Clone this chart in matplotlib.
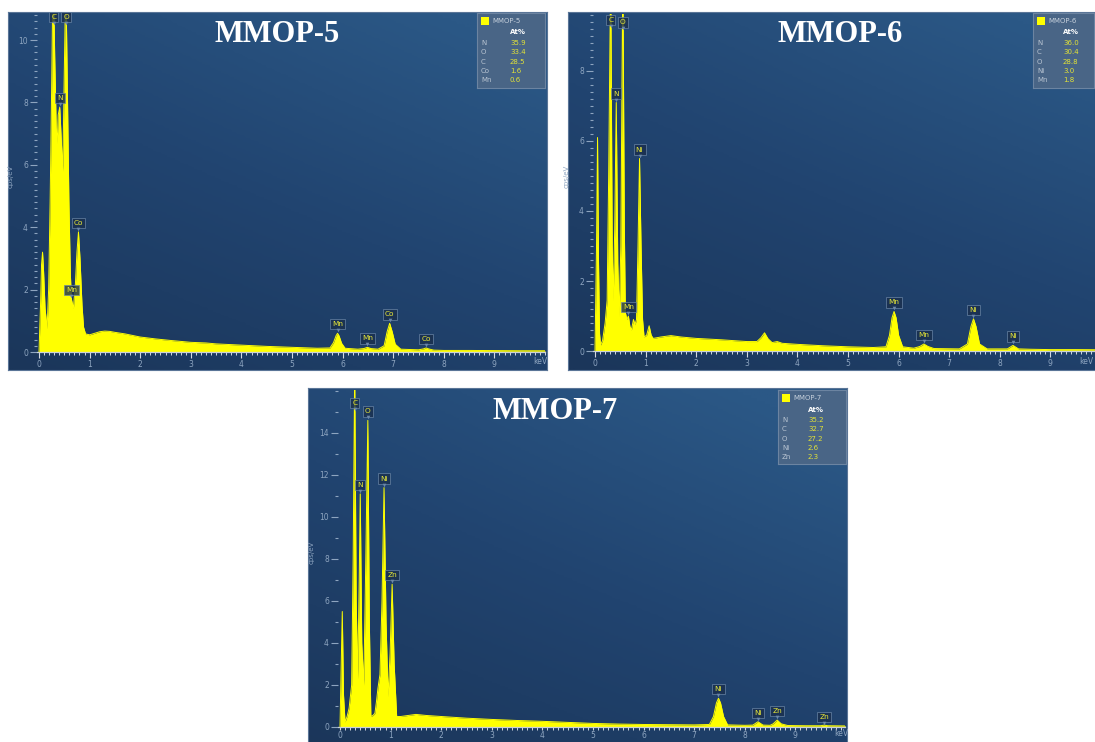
import matplotlib
matplotlib.use('Agg')
import matplotlib.pyplot as plt
import numpy as np
from matplotlib.colors import LinearSegmentedColormap
from matplotlib.patches import Rectangle
from matplotlib.ticker import MultipleLocator, FixedLocator
from matplotlib.transforms import offset_copy

W, H, DPI = 1095, 742, 100

# ---------------- data ----------------
# MMOP-5 spectrum
e5 = [0.00, 0.03, 0.05, 0.07, 0.09, 0.12, 0.16, 0.19, 0.22, 0.25, 0.28, 0.31, 0.34, 0.36,
      0.38, 0.41, 0.44, 0.47, 0.50, 0.53, 0.56, 0.59, 0.62, 0.64, 0.68, 0.72, 0.75, 0.78,
      0.81, 0.85, 0.88, 0.92, 1.0, 1.1, 1.2, 1.3, 1.4, 1.5, 1.7, 2.0, 2.3, 2.6, 3.0, 3.3,
      3.5, 4.0, 4.5, 5.0, 5.5, 5.75, 5.82, 5.87, 5.90, 5.93, 5.98, 6.05, 6.3, 6.42, 6.49,
      6.56, 6.7, 6.82, 6.88, 6.93, 6.98, 7.04, 7.15, 7.5, 7.6, 7.65, 7.7, 7.8, 8.0, 8.5,
      9.0, 9.5, 10.0]
c5 = [0.0, 1.5, 2.8, 3.2, 2.6, 1.4, 0.75, 2.0, 4.8, 8.5, 12.5, 9.5, 7.2, 6.7,
      7.6, 7.85, 6.8, 5.8, 9.0, 12.0, 8.5, 4.9, 2.5, 1.7, 1.4, 2.2, 3.2, 3.85,
      3.0, 1.5, 0.8, 0.58, 0.55, 0.6, 0.65, 0.67, 0.66, 0.63, 0.58, 0.48, 0.42, 0.37, 0.31, 0.29,
      0.26, 0.22, 0.18, 0.15, 0.12, 0.13, 0.30, 0.52, 0.60, 0.52, 0.28, 0.12, 0.09, 0.11, 0.15,
      0.11, 0.09, 0.20, 0.65, 0.92, 0.65, 0.25, 0.09, 0.07, 0.10, 0.13, 0.10, 0.06, 0.05, 0.05,
      0.045, 0.04, 0.04]

# MMOP-6 spectrum
e6 = [0.0, 0.03, 0.05, 0.07, 0.09, 0.11, 0.15, 0.20, 0.24, 0.27, 0.31, 0.34, 0.36, 0.39,
      0.42, 0.45, 0.48, 0.51, 0.55, 0.58, 0.60, 0.63, 0.66, 0.69, 0.72, 0.76, 0.79, 0.82,
      0.85, 0.88, 0.91, 0.94, 0.97, 1.02, 1.07, 1.11, 1.15, 1.3, 1.5, 1.7, 2.0, 2.5, 3.0,
      3.2, 3.28, 3.35, 3.42, 3.5, 3.6, 3.7, 4.0, 4.5, 5.0, 5.5, 5.75, 5.82, 5.87, 5.91,
      5.95, 6.0, 6.08, 6.3, 6.42, 6.5, 6.58, 6.7, 7.2, 7.36, 7.43, 7.48, 7.53, 7.6, 7.75,
      8.15, 8.26, 8.37, 8.6, 9.0, 9.5, 10.0]
c6 = [0.0, 3.0, 6.1, 2.5, 0.5, 0.17, 0.3, 0.8, 1.45, 5.0, 11.0, 3.0, 1.45, 3.5,
      7.1, 2.5, 1.0, 3.0, 11.0, 3.5, 1.1, 0.9, 1.0, 0.7, 0.6, 0.9, 0.75, 0.9,
      3.0, 5.5, 3.0, 0.9, 0.4, 0.45, 0.72, 0.45, 0.36, 0.40, 0.44, 0.40, 0.36, 0.32, 0.27,
      0.27, 0.38, 0.52, 0.35, 0.24, 0.27, 0.22, 0.19, 0.15, 0.12, 0.10, 0.12, 0.45, 0.95, 1.13,
      0.95, 0.45, 0.12, 0.08, 0.13, 0.20, 0.13, 0.07, 0.06, 0.20, 0.70, 0.92, 0.70, 0.20, 0.06,
      0.06, 0.16, 0.06, 0.05, 0.04, 0.04, 0.035]

# MMOP-7 spectrum
e7 = [0.0, 0.02, 0.045, 0.07, 0.10, 0.14, 0.18, 0.23, 0.26, 0.29, 0.32, 0.35, 0.38, 0.40,
      0.43, 0.47, 0.51, 0.55, 0.58, 0.61, 0.65, 0.69, 0.72, 0.75, 0.79, 0.83, 0.87, 0.91,
      0.95, 0.99, 1.03, 1.07, 1.12, 1.2, 1.35, 1.5, 1.7, 2.0, 2.5, 3.0, 3.5, 4.0, 4.5, 5.0,
      5.5, 6.0, 6.5, 7.0, 7.3, 7.38, 7.44, 7.48, 7.52, 7.58, 7.66, 8.0, 8.16, 8.26, 8.36,
      8.5, 8.56, 8.64, 8.72, 8.85, 9.2, 9.5, 9.57, 9.64, 10.0]
c7 = [0.0, 2.5, 5.5, 1.5, 0.24, 0.5, 0.9, 2.0, 8.0, 17.0, 6.0, 2.3, 7.0, 11.1,
      4.0, 2.0, 8.0, 14.6, 5.0, 0.5, 0.55, 0.65, 1.2, 1.85, 2.5, 6.0, 11.4, 5.0,
      1.45, 3.5, 6.8, 3.0, 0.5, 0.5, 0.55, 0.6, 0.55, 0.5, 0.42, 0.36, 0.31, 0.27, 0.22, 0.17,
      0.14, 0.12, 0.11, 0.10, 0.12, 0.50, 1.15, 1.37, 1.15, 0.50, 0.10, 0.08, 0.09, 0.25, 0.09,
      0.08, 0.15, 0.33, 0.15, 0.07, 0.06, 0.06, 0.09, 0.06, 0.05]

# peak markers: (element, energy, height where the tag sits)
peaks5 = [('C', 0.29, 10.45), ('O', 0.535, 10.45), ('N', 0.41, 7.85), ('Co', 0.78, 3.85),
          ('Mn', 0.64, 1.7), ('Mn', 5.90, 0.60), ('Mn', 6.49, 0.15), ('Co', 6.93, 0.92),
          ('Co', 7.65, 0.13)]
peaks6 = [('C', 0.31, 9.2), ('O', 0.55, 9.13), ('N', 0.42, 7.1), ('Ni', 0.88, 5.5),
          ('Mn', 0.66, 1.0), ('Mn', 5.91, 1.13), ('Mn', 6.50, 0.20), ('Ni', 7.48, 0.92),
          ('Ni', 8.26, 0.16)]
peaks7 = [('C', 0.29, 15.0), ('O', 0.55, 14.6), ('N', 0.40, 11.1), ('Ni', 0.87, 11.4),
          ('Zn', 1.03, 6.8), ('Ni', 7.48, 1.37), ('Ni', 8.26, 0.25), ('Zn', 8.64, 0.33),
          ('Zn', 9.57, 0.06)]

# legend tables (At%)
names5 = ['N', 'O', 'C', 'Co', 'Mn']
at5 = ['35.9', '33.4', '28.5', '1.6', '0.6']
names6 = ['N', 'C', 'O', 'Ni', 'Mn']
at6 = ['36.0', '30.4', '28.8', '3.0', '1.8']
names7 = ['N', 'C', 'O', 'Ni', 'Zn']
at7 = ['35.2', '32.7', '27.2', '2.6', '2.3']

titles = ['MMOP-5', 'MMOP-6', 'MMOP-7']
xtick_vals = list(range(0, 10))

# ---------------- drawing ----------------
fig = plt.figure(figsize=(W / DPI, H / DPI), dpi=DPI)
fig.patch.set_facecolor('white')


def px_axes(l, t, r, b):
    return fig.add_axes([l / W, 1 - b / H, (r - l) / W, (b - t) / H])


YELLOW = '#ffff00'
TAG_TXT = '#e8e838'
TICK_C = '#8ea5c0'
bg_cmap = LinearSegmentedColormap.from_list('bg', ['#1b365a', '#214470', '#2b5886'])
SX = 50.6  # px per keV


def draw_panel(frame, data_box, zx, zy, sy, energy, cps, ymajor, yminor, ymax_tick,
               title, title_xy, leg_box, names, vals, peaks, vcol, xlen=4, xpad=2,
               kev_x=9.9, kev_ha='center', kev_dy=-10):
    # background frame with gradient
    fax = px_axes(*frame)
    rows, cols = 120, 200
    t = np.linspace(0, 1, rows)[:, None]
    s = np.linspace(0, 1, cols)[None, :]
    g = np.clip(0.62 * (1 - t) + 0.38 * s + 0.1 * (1 - t) * s, 0, 1)
    fax.imshow(g, cmap=bg_cmap, aspect='auto', extent=(0, 1, 0, 1), origin='upper',
               vmin=0, vmax=1)
    fax.set_xlim(0, 1)
    fax.set_ylim(0, 1)
    fax.set_xticks([])
    fax.set_yticks([])
    for sp in fax.spines.values():
        sp.set_color('#5a7597')
        sp.set_linewidth(0.8)

    l, tp, r, b = data_box
    ax = px_axes(l, tp, r, b)
    ax.set_facecolor('none')
    ax.set_xlim((l - zx) / SX, (r - zx) / SX)
    ax.set_ylim((zy - b) / sy, (zy - tp) / sy)
    ax.fill_between(energy, 0, cps, color=YELLOW, lw=0, zorder=2)
    ax.plot(energy, cps, color=YELLOW, lw=0.7, zorder=2)

    for k in ['top', 'right', 'left']:
        ax.spines[k].set_visible(False)
    ax.spines['bottom'].set_position(('data', 0))
    ax.spines['bottom'].set_color('#c9d0d8')
    ax.spines['bottom'].set_linewidth(0.9)

    ax.set_xticks(xtick_vals)
    ax.set_xticklabels([str(v) for v in xtick_vals])
    ax.xaxis.set_minor_locator(MultipleLocator(0.1))
    ax.tick_params(axis='x', which='major', direction='out', length=xlen, width=0.8,
                   color='#d3d9e0', labelcolor=TICK_C, labelsize=5.5, pad=xpad)
    ax.tick_params(axis='x', which='minor', direction='out', length=2.5, width=0.7,
                   color='#d3d9e0')
    ax.set_yticks(ymajor)
    ax.set_yticklabels([str(v) for v in ymajor])
    ax.yaxis.set_minor_locator(FixedLocator(list(np.arange(0, ymax_tick + 0.001, yminor))))
    ax.tick_params(axis='y', which='major', direction='out', length=5, width=0.8,
                   color=TICK_C, labelcolor=TICK_C, labelsize=5.5, pad=1.5)
    ax.tick_params(axis='y', which='minor', direction='out', length=2, width=0.8,
                   color=TICK_C)
    ax.annotate('keV', xy=(kev_x, 0), xytext=(0, kev_dy), textcoords='offset pixels',
                ha=kev_ha, va='center', fontsize=5.5, color=TICK_C, annotation_clip=False)
    ax.set_ylabel('cps/eV', fontsize=5, color=TICK_C)
    ax.yaxis.set_label_coords(-23 / (r - l), 0.52)

    # peak tags
    tri = offset_copy(ax.transData, fig=fig, x=0, y=3, units='dots')
    for el, e, h in peaks:
        ax.annotate(el, xy=(e, h), xytext=(0, 9), textcoords='offset pixels',
                    ha='center', va='center', fontsize=5.3, color=TAG_TXT,
                    bbox=dict(boxstyle='square,pad=0.3', fc='#1a2f4d', ec='#6b87a8',
                              lw=0.6, alpha=0.8),
                    annotation_clip=False, zorder=6)
        ax.plot([e], [h], marker='v', ms=2.6, color='#6b87a8', mec='none',
                transform=tri, zorder=6, clip_on=False)

    # title
    fig.text(title_xy[0] / W, 1 - title_xy[1] / H, title, fontfamily='Liberation Serif',
             fontweight='bold', fontsize=22, color='white', ha='center', va='center')

    # legend table
    ll, lt, lr, lb = leg_box
    lax = px_axes(ll, lt, lr, lb)
    lax.set_xlim(0, lr - ll)
    lax.set_ylim(lb - lt, 0)
    lax.set_facecolor('#4c6787')
    lax.patch.set_alpha(0.92)
    lax.set_xticks([])
    lax.set_yticks([])
    for sp in lax.spines.values():
        sp.set_color('#6c84a1')
        sp.set_linewidth(0.8)
    lax.add_patch(Rectangle((4, 4), 8, 8, fc=YELLOW, ec='none'))
    lax.text(15, 8, title, fontsize=5, color='#c6d0dc', va='center', ha='left')
    lax.text(vcol, 19.5, 'At%', fontsize=5, color='white', fontweight='bold',
             va='center', ha='left')
    for i, (n, v) in enumerate(zip(names, vals)):
        y = 30 + i * 9.3
        lax.text(4, y, n, fontsize=5, color='#b9c5d3', va='center', ha='left')
        lax.text(vcol, y, v, fontsize=5, color='#e3e336', va='center', ha='left')


draw_panel(frame=(8, 12, 547, 370), data_box=(37, 14, 545, 353), zx=39, zy=352, sy=31.2,
           energy=e5, cps=c5, ymajor=[0, 2, 4, 6, 8, 10], yminor=0.2, ymax_tick=10.8,
           title=titles[0], title_xy=(277, 35), leg_box=(477, 13, 545, 88),
           names=names5, vals=at5, peaks=peaks5, vcol=33)

draw_panel(frame=(568, 12, 1115, 370), data_box=(593, 14, 1101, 352), zx=595, zy=351, sy=35.0,
           energy=e6, cps=c6, ymajor=[0, 2, 4, 6, 8], yminor=0.2, ymax_tick=9.6,
           title=titles[1], title_xy=(840, 35), leg_box=(1033, 13, 1094, 88),
           names=names6, vals=at6, peaks=peaks6, vcol=30,
           kev_x=(1093 - 595) / SX, kev_ha='right')

draw_panel(frame=(308, 388, 847, 750), data_box=(338, 390, 845, 728), zx=340, zy=727, sy=21.0,
           energy=e7, cps=c7, ymajor=[0, 2, 4, 6, 8, 10, 12, 14], yminor=1.0, ymax_tick=16,
           title=titles[2], title_xy=(555, 411), leg_box=(778, 390, 846, 464),
           names=names7, vals=at7, peaks=peaks7, vcol=30, xlen=2.5, xpad=0.5, kev_dy=-7)

fig.savefig('out.png', dpi=DPI, facecolor='white')
